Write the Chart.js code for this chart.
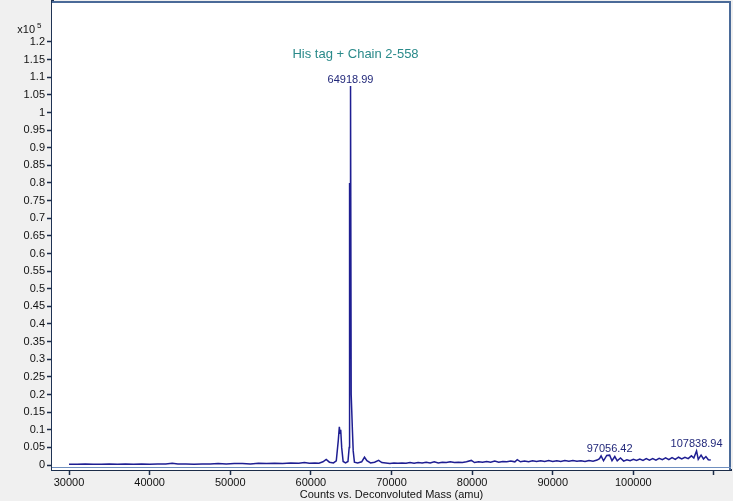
<!DOCTYPE html>
<html>
<head>
<meta charset="utf-8">
<script src="https://cdn.jsdelivr.net/npm/chart.js@4.4.1/dist/chart.umd.min.js"></script>
<style>
  html, body { margin: 0; padding: 0; background: #f0f0f0; }
  #wrap { width: 733px; height: 501px; position: relative; }
</style>
</head>
<body>
<div id="wrap"><canvas id="c" width="733" height="501"></canvas></div>
<script>
// ---- Data (intensity in units of 10^5 counts) ----
const massValues = [
  30000, 31000, 32000, 33000, 34000, 35000, 36000, 37000, 38000, 39000,
  40000, 41000, 42000, 42800, 43500, 44500, 45500, 46500, 47500, 48500,
  49500, 50500, 51500, 52500, 53500, 54500, 55500, 56500, 57500, 58500,
  59200, 59800, 60500, 61000, 61500, 61900, 62300, 62800, 63150, 63400,
  63530, 63620, 63700, 63820, 64000, 64300, 64600, 64750, 64800, 64860,
  64919, 65000, 65150, 65250, 65400, 65800, 66300, 66650, 66950, 67400,
  67900, 68400, 68800, 69300, 69800, 70300, 70800, 71300, 71800, 72300,
  72800, 73300, 73800, 74300, 74800, 75300, 75800, 76300, 76800, 77300,
  77800, 78300, 78800, 79300, 79900, 80300, 80800, 81300, 81800, 82300,
  82800, 83300, 83800, 84300, 84800, 85300, 85600, 86000, 86500, 87000,
  87500, 88000, 88500, 89000, 89500, 90000, 90500, 91000, 91500, 92000,
  92500, 93000, 93500, 94000, 94500, 95000, 95500, 95800, 96000, 96300,
  96700, 97056, 97350, 97700, 98000, 98400, 98800, 99200, 99600, 100000,
  100400, 100800, 101200, 101600, 102000, 102400, 102800, 103200, 103600, 104000,
  104400, 104800, 105200, 105600, 106000, 106400, 106800, 107200, 107500, 107839,
  108050, 108400, 108700, 109000, 109300, 109600
];
const intensityValues = [
  0.002, 0.002, 0.003, 0.002, 0.002, 0.003, 0.002, 0.003, 0.002, 0.003,
  0.002, 0.003, 0.003, 0.005, 0.003, 0.003, 0.002, 0.003, 0.003, 0.004,
  0.003, 0.004, 0.004, 0.003, 0.005, 0.004, 0.005, 0.004, 0.006, 0.005,
  0.007, 0.005, 0.006, 0.005, 0.009, 0.016, 0.008, 0.006, 0.012, 0.070,
  0.108, 0.090, 0.100, 0.050, 0.010, 0.006, 0.010, 0.050, 0.800, 0.760,
  1.075, 0.200, 0.100, 0.040, 0.008, 0.006, 0.009, 0.022, 0.012, 0.006,
  0.008, 0.013, 0.007, 0.006, 0.004, 0.006, 0.005, 0.006, 0.005, 0.007,
  0.005, 0.007, 0.006, 0.008, 0.006, 0.009, 0.006, 0.008, 0.007, 0.009,
  0.007, 0.008, 0.007, 0.009, 0.013, 0.007, 0.009, 0.008, 0.010, 0.008,
  0.011, 0.008, 0.010, 0.009, 0.011, 0.009, 0.015, 0.009, 0.011, 0.009,
  0.012, 0.010, 0.012, 0.010, 0.013, 0.010, 0.012, 0.010, 0.013, 0.011,
  0.013, 0.011, 0.012, 0.010, 0.013, 0.011, 0.014, 0.018, 0.026, 0.012,
  0.027, 0.028, 0.012, 0.024, 0.012, 0.020, 0.011, 0.015, 0.012, 0.016,
  0.013, 0.017, 0.013, 0.018, 0.014, 0.018, 0.014, 0.019, 0.015, 0.020,
  0.015, 0.021, 0.016, 0.022, 0.017, 0.022, 0.018, 0.026, 0.020, 0.040,
  0.016, 0.028, 0.017, 0.024, 0.015, 0.014
];
const yTickValues = [0, 0.05, 0.1, 0.15, 0.2, 0.25, 0.3, 0.35, 0.4, 0.45, 0.5, 0.55, 0.6,
  0.65, 0.7, 0.75, 0.8, 0.85, 0.9, 0.95, 1, 1.05, 1.1, 1.15, 1.2];
const xTickValues = [30000, 40000, 50000, 60000, 70000, 80000, 90000, 100000, 110000];
const xTickLabels = ['30000', '40000', '50000', '60000', '70000', '80000', '90000', '100000', ''];
const peakLabels = ['64918.99', '97056.42', '107838.94'];
const peakMasses = [64918.99, 97056.42, 107838.94];
const peakHeights = [1.075, 0.028, 0.040];
const compoundLabel = 'His tag + Chain 2-558';
const yExponentLabel = 'x10';
const yExponent = '5';
const xAxisTitle = 'Counts vs. Deconvoluted Mass (amu)';

const FONT = "'Liberation Sans', Arial, sans-serif";

const framePlugin = {
  id: 'frame',
  beforeDatasetsDraw(chart) {
    const { ctx, chartArea: a } = chart;
    ctx.save();
    ctx.fillStyle = '#ffffff';
    ctx.fillRect(a.left, a.top, a.right - a.left, a.bottom - a.top);
    ctx.restore();
  },
  afterDraw(chart) {
    const { ctx, chartArea: a, scales } = chart;
    ctx.save();
    // top/right frame
    ctx.strokeStyle = '#4a6a98';
    ctx.lineWidth = 2;
    ctx.beginPath();
    ctx.moveTo(a.left, a.top + 1);
    ctx.lineTo(a.right - 1, a.top + 1);
    ctx.lineTo(a.right - 1, a.bottom);
    ctx.stroke();
    // thin inner bottom frame line
    ctx.strokeStyle = '#6f8fbf';
    ctx.lineWidth = 1;
    ctx.beginPath();
    ctx.moveTo(a.left, a.bottom - 2.5);
    ctx.lineTo(a.right, a.bottom - 2.5);
    ctx.stroke();

    // exponent label
    const y12 = scales.y.getPixelForValue(1.2);
    ctx.fillStyle = '#111111';
    ctx.font = '11px ' + FONT;
    ctx.textAlign = 'right';
    ctx.textBaseline = 'middle';
    ctx.fillText(yExponentLabel, a.left - 17, y12 - 12);
    ctx.font = '8px ' + FONT;
    ctx.textAlign = 'left';
    ctx.fillText(yExponent, a.left - 15, y12 - 16);

    // peak labels
    ctx.font = '11px ' + FONT;
    ctx.textAlign = 'center';
    ctx.textBaseline = 'bottom';
    ctx.fillStyle = '#22287a';
    for (let i = 0; i < peakLabels.length; i++) {
      const px = scales.x.getPixelForValue(peakMasses[i]);
      const py = scales.y.getPixelForValue(peakHeights[i]);
      ctx.fillText(peakLabels[i], px, py - 1);
    }
    // compound label above main peak
    const mx = scales.x.getPixelForValue(peakMasses[0]);
    const my = scales.y.getPixelForValue(peakHeights[0]);
    ctx.font = '13px ' + FONT;
    ctx.fillStyle = '#2a8a8a';
    ctx.textBaseline = 'middle';
    ctx.fillText(compoundLabel, mx + 5, my - 32);
    ctx.restore();
  }
};

new Chart(document.getElementById('c'), {
  type: 'line',
  data: {
    datasets: [{
      data: massValues.map((m, i) => ({ x: m, y: intensityValues[i] })),
      borderColor: '#1e1e92',
      borderWidth: 1.5,
      pointRadius: 0,
      tension: 0,
      fill: false
    }]
  },
  options: {
    responsive: false,
    animation: false,
    devicePixelRatio: 1,
    layout: { padding: { top: 1, right: 2, left: 0, bottom: 0 } },
    plugins: { legend: { display: false }, tooltip: { enabled: false }, title: { display: false } },
    scales: {
      x: {
        type: 'linear',
        min: 27888,
        max: 112112,
        afterBuildTicks(s) { s.ticks = xTickValues.map(v => ({ value: v })); },
        afterFit(s) { s.height = 31; s.paddingLeft = 0; s.paddingRight = 0; },
        ticks: {
          autoSkip: false,
          maxRotation: 0,
          padding: 1,
          color: '#111111',
          font: { family: FONT, size: 11 },
          callback(v) { const i = xTickValues.indexOf(v); return i >= 0 ? xTickLabels[i] : ''; }
        },
        grid: { drawOnChartArea: false, drawTicks: true, tickLength: 5, tickColor: '#1c2c48', tickWidth: 1.5 },
        border: { display: true, color: '#1c2c48', width: 2 },
        title: { display: true, text: xAxisTitle, color: '#111111', font: { family: FONT, size: 11 }, padding: { top: 0, bottom: -1 } }
      },
      y: {
        type: 'linear',
        min: -0.01418,
        max: 1.3163,
        afterBuildTicks(s) { s.ticks = yTickValues.map(v => ({ value: v })); },
        afterFit(s) { s.width = 52; s.paddingTop = 0; s.paddingBottom = 0; },
        ticks: {
          autoSkip: false,
          padding: 2,
          color: '#111111',
          font: { family: FONT, size: 11 },
          callback(v) { return yTickValues.indexOf(v) >= 0 ? String(v) : ''; }
        },
        grid: { drawOnChartArea: false, drawTicks: true, tickLength: 5, tickColor: '#1c2c48', tickWidth: 1.5 },
        border: { display: true, color: '#1f3354', width: 3 }
      }
    }
  },
  plugins: [framePlugin]
});
</script>
</body>
</html>
